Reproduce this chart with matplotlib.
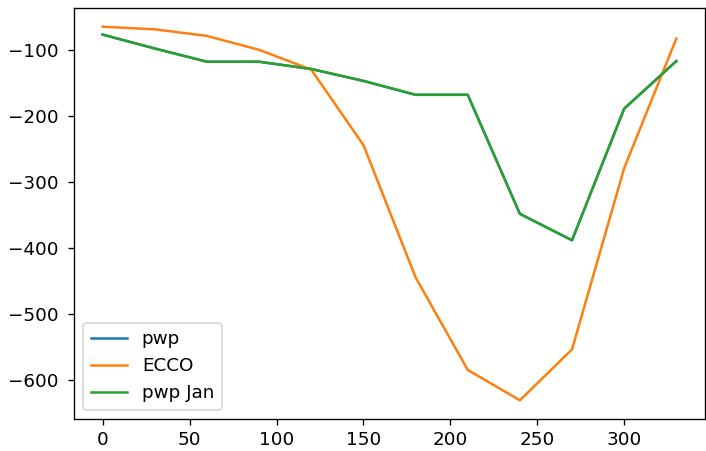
import matplotlib
matplotlib.use("Agg")
import matplotlib.pyplot as plt

# day of year, monthly samples
days = [0, 30, 60, 90, 120, 150, 180, 210, 240, 270, 300, 330]

pwp = [-77, -98, -118, -118, -129, -147, -168, -168, -348, -388, -189, -117]
ecco = [-65, -69, -79, -100, -130, -244, -444, -584, -630, -553, -279, -83]
pwp_jan = [-77, -98, -118, -118, -129, -147, -168, -168, -348, -388, -189, -117]

plt.rcParams["font.size"] = 11
plt.rcParams["ytick.major.pad"] = 6

fig = plt.figure(figsize=(706 / 120, 451 / 120), dpi=120)
ax = fig.add_axes([74 / 706, (451 - 419) / 451, 631 / 706, 411 / 451])

ax.plot(days, pwp, label="pwp")
ax.plot(days, ecco, label="ECCO")
ax.plot(days, pwp_jan, label="pwp Jan")

ax.legend(loc="lower left")

fig.savefig("out.png", dpi=120)
plt.close(fig)
